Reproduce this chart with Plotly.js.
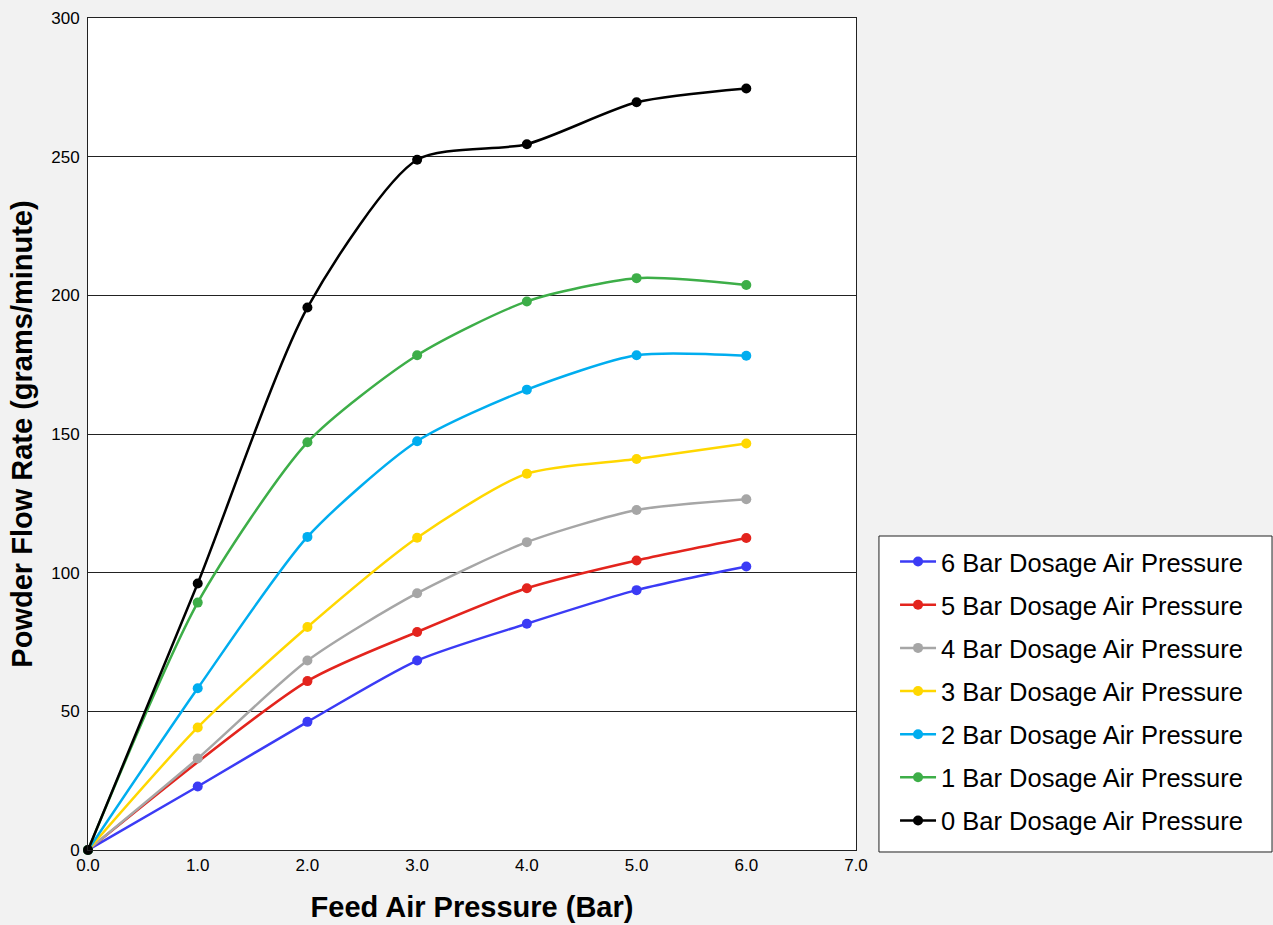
<!DOCTYPE html>
<html>
<head>
<meta charset="utf-8">
<script src="https://cdn.plot.ly/plotly-3.0.1.min.js"></script>
<style>
  html, body { margin: 0; padding: 0; background: #f2f2f2; }
  #chart { width: 1273px; height: 925px; }
</style>
</head>
<body>
<div id="chart"></div>
<script>
// Data
var feedAirPressure = [0, 1, 2, 3, 4, 5, 6];
var feedAirPressureRed = [0, 2, 3, 4, 5, 6];

var bar6 = [0, 22.9, 46.2, 68.3, 81.6, 93.7, 102.2];
var bar5 = [0, 60.9, 78.6, 94.4, 104.4, 112.5];
var bar4 = [0, 33.0, 68.3, 92.6, 111.0, 122.6, 126.5];
var bar3 = [0, 44.2, 80.4, 112.6, 135.7, 141.0, 146.6];
var bar2 = [0, 58.3, 112.9, 147.4, 166.0, 178.4, 178.2];
var bar1 = [0, 89.2, 147.0, 178.4, 197.8, 206.2, 203.7];
var bar0 = [0, 96.1, 195.6, 248.9, 254.5, 269.6, 274.6];

var seriesNames = [
  "6 Bar Dosage Air Pressure",
  "5 Bar Dosage Air Pressure",
  "4 Bar Dosage Air Pressure",
  "3 Bar Dosage Air Pressure",
  "2 Bar Dosage Air Pressure",
  "1 Bar Dosage Air Pressure",
  "0 Bar Dosage Air Pressure"
];
var seriesX = [feedAirPressure, feedAirPressureRed, feedAirPressure, feedAirPressure, feedAirPressure, feedAirPressure, feedAirPressure];
var seriesY = [bar6, bar5, bar4, bar3, bar2, bar1, bar0];
var seriesColors = ["#3b3bf5", "#e3241d", "#a6a6a6", "#ffd700", "#00adef", "#3dae48", "#000000"];

var xTickVals = [0, 1, 2, 3, 4, 5, 6, 7];
var xTickText = ["0.0", "1.0", "2.0", "3.0", "4.0", "5.0", "6.0", "7.0"];
var yTickVals = [0, 50, 100, 150, 200, 250, 300];

var FONT = "Arial, 'Liberation Sans', sans-serif";

var traces = seriesNames.map(function (name, i) {
  return {
    type: "scatter",
    mode: "lines+markers",
    name: name,
    legendgroup: "g" + i,
    x: seriesX[i],
    y: seriesY[i],
    line: { color: seriesColors[i], width: 2.5, shape: "spline", smoothing: 0.7 },
    marker: { color: seriesColors[i], size: 10 },
    cliponaxis: false
  };
});

var layout = {
  width: 1273,
  height: 925,
  paper_bgcolor: "#f2f2f2",
  plot_bgcolor: "#ffffff",
  margin: { l: 88, r: 417, t: 18, b: 75 },
  font: { family: FONT, color: "#000000", size: 17 },
  showlegend: true,
  legend: {
    x: 1.03, xanchor: "left",
    y: 0.0066, yanchor: "bottom",
    bgcolor: "rgba(0,0,0,0)",
    borderwidth: 0,
    font: { family: FONT, size: 25.5, color: "#000000" },
    traceorder: "grouped",
    tracegroupgap: 7,
    itemwidth: 36,
    indentation: 16
  },
  shapes: [{
    type: "rect",
    xref: "paper", yref: "paper",
    x0: 1.0299, x1: 1.5417,
    y0: -0.0024, y1: 0.3774,
    fillcolor: "#ffffff",
    line: { color: "#222222", width: 1 },
    layer: "above"
  }],
  xaxis: {
    range: [0, 7],
    tickvals: xTickVals,
    ticktext: xTickText,
    showgrid: false,
    zeroline: false,
    showline: true,
    linecolor: "#222222",
    linewidth: 1,
    mirror: true,
    ticks: "",
    tickfont: { family: FONT, size: 17, color: "#000000" },
    title: { text: "<b>Feed Air Pressure (Bar)</b>", font: { family: FONT, size: 29, color: "#000000" }, standoff: 22 },
    fixedrange: true
  },
  yaxis: {
    range: [0, 300],
    tickvals: yTickVals,
    showgrid: true,
    gridcolor: "#222222",
    gridwidth: 1,
    zeroline: false,
    showline: true,
    linecolor: "#222222",
    linewidth: 1,
    mirror: true,
    ticks: "",
    ticklabelstandoff: 4,
    tickfont: { family: FONT, size: 17, color: "#000000" },
    title: { text: "<b>Powder Flow Rate (grams/minute)</b>", font: { family: FONT, size: 29, color: "#000000" }, standoff: 10 },
    fixedrange: true
  }
};

Plotly.newPlot("chart", traces, layout, { displayModeBar: false, staticPlot: true });
</script>
</body>
</html>
